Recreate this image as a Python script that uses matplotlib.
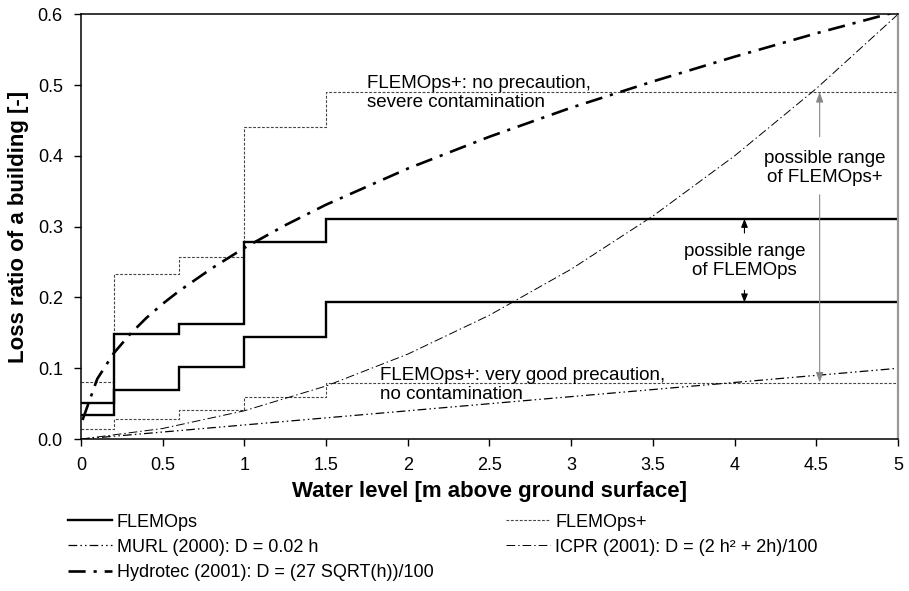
import matplotlib.pyplot as plt
from matplotlib.lines import Line2D

plt.rcParams['font.family'] = ['Liberation Sans', 'DejaVu Sans']

# step functions (FLEMOps and FLEMOps+), value valid from x up to the next x
step_x = [0, 0.2, 0.6, 1.0, 1.5, 5]
flemops_hi = [0.051, 0.148, 0.163, 0.279, 0.311, 0.311]
flemops_lo = [0.034, 0.070, 0.102, 0.144, 0.193, 0.193]
plus_hi = [0.081, 0.233, 0.257, 0.441, 0.490, 0.490]
plus_lo = [0.014, 0.028, 0.041, 0.059, 0.079, 0.079]

# MURL (2000)
murl_h = [0, 1, 2, 3, 4, 5]
murl_d = [0.0, 0.02, 0.04, 0.06, 0.08, 0.10]

# ICPR (2001)
icpr_h = [0, 0.5, 1, 1.5, 2, 2.5, 3, 3.5, 4, 4.5, 5]
icpr_d = [0.0, 0.015, 0.04, 0.075, 0.12, 0.175, 0.24, 0.315, 0.40, 0.495, 0.60]

# Hydrotec (2001)
hydro_h = [0.01, 0.1, 0.2, 0.3, 0.4, 0.5, 0.6, 0.8, 1.0, 1.25, 1.5, 2.0, 2.5, 3.0, 3.5, 4.0, 4.5, 5.0]
hydro_d = [0.027, 0.085, 0.121, 0.148, 0.171, 0.191, 0.209, 0.241, 0.270, 0.302,
           0.331, 0.382, 0.427, 0.468, 0.505, 0.540, 0.573, 0.604]

fig = plt.figure(figsize=(9.09, 5.91), dpi=100)
ax = fig.add_axes([0.089, 0.257, 0.899, 0.719])

solid = dict(color='black', lw=1.7, solid_joinstyle='miter')
dotted = dict(color='#444444', lw=0.8, dashes=(2.5, 1.5))
murl_style = dict(color='black', lw=0.9, dashes=(7, 2.5, 1.2, 2.5, 1.2, 2.5))
icpr_style = dict(color='black', lw=0.7, dashes=(9, 3, 1.5, 3))
hydro_style = dict(color='black', lw=1.9, dashes=(6.5, 3, 1.2, 3))

ax.step(step_x, plus_hi, where='post', **dotted)
ax.step(step_x, plus_lo, where='post', **dotted)
ax.plot(murl_h, murl_d, **murl_style)
ax.plot(icpr_h, icpr_d, **icpr_style)
ax.plot(hydro_h, hydro_d, **hydro_style)
ax.step(step_x, flemops_hi, where='post', **solid)
ax.step(step_x, flemops_lo, where='post', **solid)

ax.set_xlim(0, 5)
ax.set_ylim(0, 0.6)
ax.set_xticks([0, 0.5, 1, 1.5, 2, 2.5, 3, 3.5, 4, 4.5, 5])
ax.set_xticklabels(['0', '0.5', '1', '1.5', '2', '2.5', '3', '3.5', '4', '4.5', '5'])
ax.set_yticks([0, 0.1, 0.2, 0.3, 0.4, 0.5, 0.6])
ax.set_yticklabels(['0.0', '0.1', '0.2', '0.3', '0.4', '0.5', '0.6'])
ax.tick_params(axis='both', labelsize=13, direction='out', length=5, width=1)
ax.tick_params(axis='y', pad=8)
ax.tick_params(axis='x', pad=8)
ax.spines['right'].set_color('#999999')
ax.spines['right'].set_linewidth(1.6)
for s in ['left', 'bottom', 'top']:
    ax.spines[s].set_linewidth(1.1)

ax.set_xlabel('Water level [m above ground surface]', fontsize=16, fontweight='bold', labelpad=5)
ax.set_ylabel('Loss ratio of a building [-]', fontsize=16, fontweight='bold', labelpad=6)

# annotations
ann = dict(fontsize=13.5, linespacing=1.15)
ax.text(1.75, 0.489, 'FLEMOps+: no precaution,\nsevere contamination', va='center', ha='left', **ann)
ax.text(1.83, 0.077, 'FLEMOps+: very good precaution,\nno contamination', va='center', ha='left', **ann)
ax.text(4.06, 0.251, 'possible range\nof FLEMOps', va='center', ha='center', **ann)
ax.text(4.55, 0.383, 'possible range\nof FLEMOps+', va='center', ha='center', **ann)

black_arrow = dict(arrowstyle='-|>,head_length=0.5,head_width=0.2', color='black', lw=0.8,
                   shrinkA=0, shrinkB=0)
gray_arrow = dict(arrowstyle='-|>,head_length=0.6,head_width=0.22', color='#888888', lw=0.8,
                  shrinkA=0, shrinkB=0)
ax.annotate('', xy=(4.06, 0.311), xytext=(4.06, 0.291), arrowprops=black_arrow)
ax.annotate('', xy=(4.06, 0.193), xytext=(4.06, 0.210), arrowprops=black_arrow)
ax.annotate('', xy=(4.52, 0.490), xytext=(4.52, 0.427), arrowprops=gray_arrow)
ax.annotate('', xy=(4.52, 0.080), xytext=(4.52, 0.345), arrowprops=gray_arrow)

# legend below the axes, two columns
h_flem = Line2D([], [], **solid)
h_murl = Line2D([], [], **murl_style)
h_hydro = Line2D([], [], **hydro_style)
h_plus = Line2D([], [], **dotted)
h_icpr = Line2D([], [], **icpr_style)

leg_font = dict(family=['Liberation Sans Narrow', 'Liberation Sans'], size=13)
leg_opts = dict(loc='upper left', frameon=False, prop=leg_font, handlelength=2.4,
                handletextpad=0.3, labelspacing=0.45, borderpad=0, borderaxespad=0)
fig.legend([h_flem, h_murl, h_hydro],
           ['FLEMOps', 'MURL (2000): D = 0.02 h', 'Hydrotec (2001): D = (27 SQRT(h))/100'],
           bbox_to_anchor=(0.075, 0.131), **leg_opts)
fig.legend([h_plus, h_icpr],
           ['FLEMOps+', 'ICPR (2001): D = (2 h\u00b2 + 2h)/100'],
           bbox_to_anchor=(0.557, 0.131), **leg_opts)

fig.savefig('out.png', dpi=100)
